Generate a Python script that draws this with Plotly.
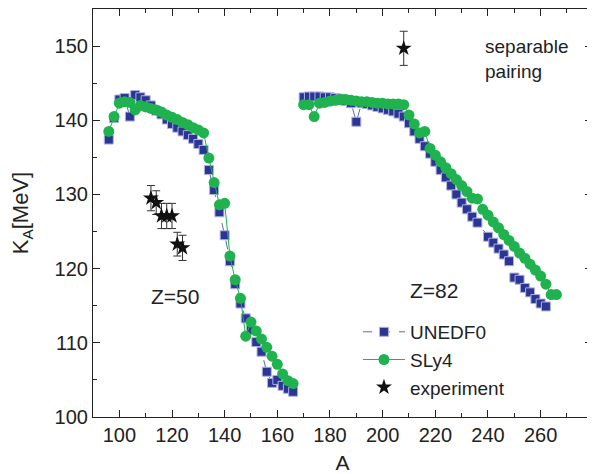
import plotly.graph_objects as go

# ---------------- data ----------------
A_sn = [96, 98, 100, 102, 104, 106, 108, 110, 112, 114, 116, 118, 120, 122, 124, 126,
        128, 130, 132, 134, 136, 138, 140, 142, 144, 146, 148, 150, 152, 154, 156, 158,
        160, 162, 164, 166]
K_sn_unedf0 = [137.4, 140.3, 142.8, 143.0, 140.5, 143.4, 143.1, 142.7, 142.0, 141.3, 140.8,
               140.1, 139.5, 139.0, 138.5, 138.0, 137.5, 136.8, 136.0, 133.3, 130.6, 127.6,
               124.5, 121.0, 117.9, 115.3, 113.3, 111.7, 110.1, 108.8, 106.1, 104.6, 105.0,
               104.2, 103.8, 103.4]
K_sn_sly4 = [138.5, 140.5, 142.3, 142.5, 142.4, 141.4, 142.0, 141.8, 141.6, 141.4, 141.1,
             140.7, 140.4, 140.1, 139.7, 139.4, 139.0, 138.7, 138.3, 134.9, 131.6, 128.6,
             128.8, 121.7, 118.5, 116.0, 110.9, 112.8, 111.6, 110.5, 109.4, 108.2, 107.1,
             105.8, 104.9, 104.5]

A_pb_unedf0 = [170, 172, 174, 176, 178, 180, 182, 184, 186, 188, 190, 192, 194, 196, 198,
               200, 202, 204, 206, 208, 210, 212, 214, 216, 218, 220, 222, 224, 226, 228,
               230, 232, 234, 236, 240, 242, 244, 246, 248, 250, 252, 254, 256, 258, 260,
               262]
K_pb_unedf0 = [143.1, 143.2, 143.2, 143.2, 143.1, 143.1, 143.0, 142.9, 142.6, 142.3, 139.8,
               142.3, 142.2, 142.0, 141.8, 141.6, 141.4, 141.2, 140.9, 140.5, 139.6, 138.5,
               137.5, 136.5, 135.5, 134.4, 133.3, 132.3, 131.2, 130.0, 128.9, 128.0, 127.0,
               126.2, 124.3, 123.5, 122.7, 121.9, 121.0, 118.8, 118.5, 117.4, 116.8, 115.9,
               115.3, 114.9]

A_pb_sly4 = [170, 172, 174, 176, 178, 180, 182, 184, 186, 188, 190, 192, 194, 196, 198,
             200, 202, 204, 206, 208, 210, 212, 214, 216, 218, 220, 222, 224, 226, 228,
             230, 232, 234, 236, 238, 240, 242, 244, 246, 248, 250, 252, 254, 256, 258,
             260, 262, 264, 266]
K_pb_sly4 = [142.1, 142.1, 140.5, 142.3, 142.4, 142.6, 142.7, 142.8, 142.8, 142.7, 142.6,
             142.5, 142.5, 142.4, 142.3, 142.3, 142.2, 142.2, 142.2, 142.1, 140.7, 139.5,
             138.3, 138.5, 136.2, 135.3, 134.4, 133.6, 132.8, 132.0, 131.2, 130.4, 129.5,
             129.4, 128.0, 127.2, 126.3, 125.5, 124.6, 123.8, 123.0, 122.1, 121.4, 120.6,
             119.8, 119.0, 117.9, 116.5, 116.5]

A_exp = [112, 114, 116, 118, 120, 122, 124, 208]
K_exp = [129.5, 128.9, 127.1, 127.1, 127.1, 123.3, 122.8, 149.7]
K_exp_err = [1.7, 1.6, 1.7, 1.7, 1.7, 1.6, 1.7, 2.3]

x_ticks = [100, 120, 140, 160, 180, 200, 220, 240, 260]
y_ticks = [100, 110, 120, 130, 140, 150]

BLUE = "#2b3593"
BLUE_LINE = "#5c66b8"
GREEN = "#1fb24e"
FONT = "Liberation Sans, Arial, sans-serif"
TXT = "#222222"

fig = go.Figure()

# UNEDF0 (blue squares, dashed line)
fig.add_trace(go.Scatter(
    x=A_sn + [None] + A_pb_unedf0, y=K_sn_unedf0 + [None] + K_pb_unedf0,
    mode="lines+markers", name="UNEDF0",
    line=dict(color=BLUE_LINE, width=1, dash="dash"),
    marker=dict(symbol="square", size=9, color=BLUE,
                line=dict(color="#aeb2e0", width=1)),
))

# SLy4 (green circles, solid line)
fig.add_trace(go.Scatter(
    x=A_sn + [None] + A_pb_sly4, y=K_sn_sly4 + [None] + K_pb_sly4,
    mode="lines+markers", name="SLy4",
    line=dict(color=GREEN, width=1),
    marker=dict(symbol="circle", size=11, color=GREEN),
))

# experiment
fig.add_trace(go.Scatter(
    x=A_exp, y=K_exp, mode="markers", name="experiment",
    marker=dict(symbol="star", size=12, color="#111111"),
    error_y=dict(type="data", array=K_exp_err, visible=True,
                 color="#333333", thickness=1, width=4),
))

axis_common = dict(
    showline=True, linecolor="#222222", linewidth=1.2, mirror="ticks",
    ticks="inside", ticklen=7, tickwidth=1, tickcolor="#222222",
    showgrid=False, zeroline=False, automargin=False,
    tickfont=dict(family=FONT, size=20, color=TXT),
)

fig.update_xaxes(
    range=[90, 279.5], tickvals=x_ticks,
    minor=dict(ticks="inside", ticklen=4, dtick=10, tick0=90, tickcolor="#222222", showgrid=False),
    title=dict(text="A", font=dict(family=FONT, size=21, color=TXT), standoff=10),
    **axis_common,
)
fig.update_yaxes(
    range=[100, 155], tickvals=y_ticks,
    minor=dict(ticks="inside", ticklen=4, dtick=5, tick0=100, tickcolor="#222222", showgrid=False),
    title=dict(text="K<sub>A</sub>[MeV]", font=dict(family=FONT, size=22, color=TXT), standoff=19),
    **axis_common,
)

fig.add_annotation(x=238, y=148.3, xref="x", yref="y", text="separable<br>pairing",
                   showarrow=False, xanchor="left", yanchor="middle", align="left",
                   font=dict(family=FONT, size=19, color=TXT))
fig.add_annotation(x=121.3, y=116.2, xref="x", yref="y", text="Z=50", showarrow=False,
                   font=dict(family=FONT, size=21, color=TXT))
fig.add_annotation(x=219.4, y=117.1, xref="x", yref="y", text="Z=82", showarrow=False,
                   font=dict(family=FONT, size=21, color=TXT))

# page body has an 8px margin; size the figure so it fits the 595x474 window
fig.update_layout(
    width=587, height=466,
    margin=dict(l=85, r=3, t=1, b=57),
    paper_bgcolor="white", plot_bgcolor="white",
    showlegend=True,
    legend=dict(x=0.531, y=0.255, xanchor="left", yanchor="top",
                bgcolor="rgba(0,0,0,0)", font=dict(family=FONT, size=19, color=TXT),
                tracegroupgap=0, itemsizing="trace", itemwidth=42),
)

fig.write_html("out.html")
